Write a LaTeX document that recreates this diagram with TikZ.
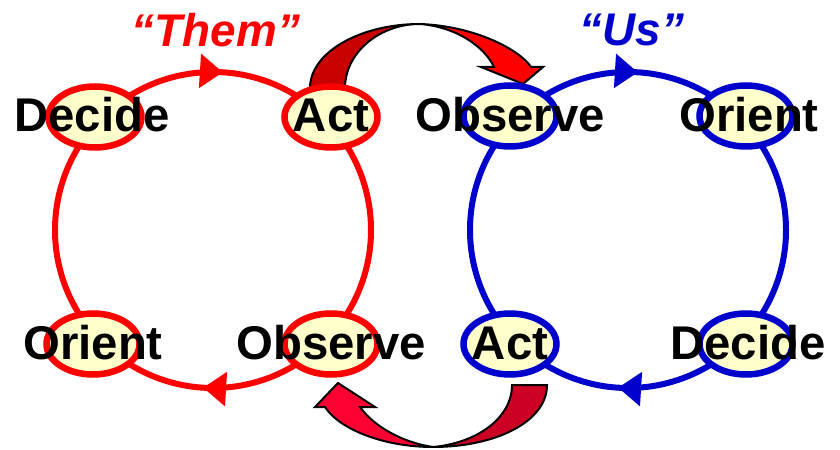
\documentclass[tikz,border=0pt]{standalone}
\usepackage{fontspec}
\setmainfont{Liberation Sans}
\usetikzlibrary{positioning,shapes.geometric,arrows.meta,decorations.markings}
\definecolor{themred}{HTML}{FF0000}
\definecolor{usblue}{HTML}{0000CC}
\definecolor{spotfill}{HTML}{FFFFCC}
\definecolor{backred}{HTML}{C80000}
\definecolor{crimson}{HTML}{FF0033}
\definecolor{deepcrimson}{HTML}{CC0022}
\tikzstyle{spot} = [ellipse, minimum width=93bp, minimum height=61bp, inner sep=0pt, line width=6.5bp, fill=spotfill]
\tikzstyle{word} = [anchor=base, inner sep=0pt, font=\fontsize{47.5}{50}\selectfont\bfseries]
\tikzstyle{side} = [anchor=base, inner sep=0pt, font=\fontsize{46}{50}\selectfont\bfseries\itshape]
\tikzstyle{loop} = [line width=6bp, postaction={decorate}, decoration={markings,
    mark=at position 0.26 with {\arrow{Triangle[length=23bp,width=33bp]}},
    mark=at position 0.76 with {\arrow{Triangle[length=23bp,width=33bp]}}}]
\tikzstyle{bigarrow} = [draw=black, line width=2bp, line join=miter]

\begin{document}
\begin{tikzpicture}[x=1bp, y=-1bp]
  \useasboundingbox (0,0) rectangle (840,450);
  % the two loops
  \draw[loop, themred] (213,230) ++(180:158) arc[start angle=180, end angle=540, radius=158];
  \draw[loop, usblue] (628,230) ++(180:158) arc[start angle=180, end angle=540, radius=158];
  % "them" act -> "us" observe
  \filldraw[bigarrow, fill=backred] (310,88) .. controls (310,53) and (359,24) .. (420,24)
      .. controls (379,24) and (345,53) .. (345,88) -- cycle;
  \filldraw[bigarrow, fill=themred] (420,24) .. controls (475,26) and (520,50) .. (531,67)
      -- (543,67) -- (523,84) -- (481,67) -- (494,67)
      .. controls (484,46) and (456,27) .. (420,24) -- cycle;
  % "us" act -> "them" observe
  \filldraw[bigarrow, fill=deepcrimson] (547,385) .. controls (547,422) and (495,447) .. (433,447)
      .. controls (477,443) and (512,418) .. (512,385) -- cycle;
  \filldraw[bigarrow, fill=crimson] (433,447) .. controls (385,447) and (340,430) .. (325,407)
      -- (315,407) -- (338,383) -- (375,407) -- (360,407)
      .. controls (375,428) and (405,443) .. (433,447) -- cycle;
  % spots on the loops
  \node[spot, draw=themred] (rDecide) at (95,117) {};
  \node[spot, draw=themred] (rAct) at (331,117) {};
  \node[spot, draw=themred] (rOrient) at (93,344) {};
  \node[spot, draw=themred] (rObserve) at (331,344) {};
  \node[spot, draw=usblue] (bObserve) at (510,116) {};
  \node[spot, draw=usblue] (bOrient) at (746,116) {};
  \node[spot, draw=usblue] (bAct) at (510,344) {};
  \node[spot, draw=usblue] (bDecide) at (746,344) {};
  % labels
  \node[word] (rDecideText) at (92,132) {Decide};
  \node[word] (rActText) at (331,132) {Act};
  \node[word] (rOrientText) at (93,360) {Orient};
  \node[word] (rObserveText) at (331,360) {Observe};
  \node[word] (bObserveText) at (510,132) {Observe};
  \node[word] (bOrientText) at (749,132) {Orient};
  \node[word] (bActText) at (510,360) {Act};
  \node[word] (bDecideText) at (748,360) {Decide};
  \node[side, themred] (themText) at (216,47) {“Them”};
  \node[side, usblue] (usText) at (632,46) {“Us”};
\end{tikzpicture}
\end{document}
